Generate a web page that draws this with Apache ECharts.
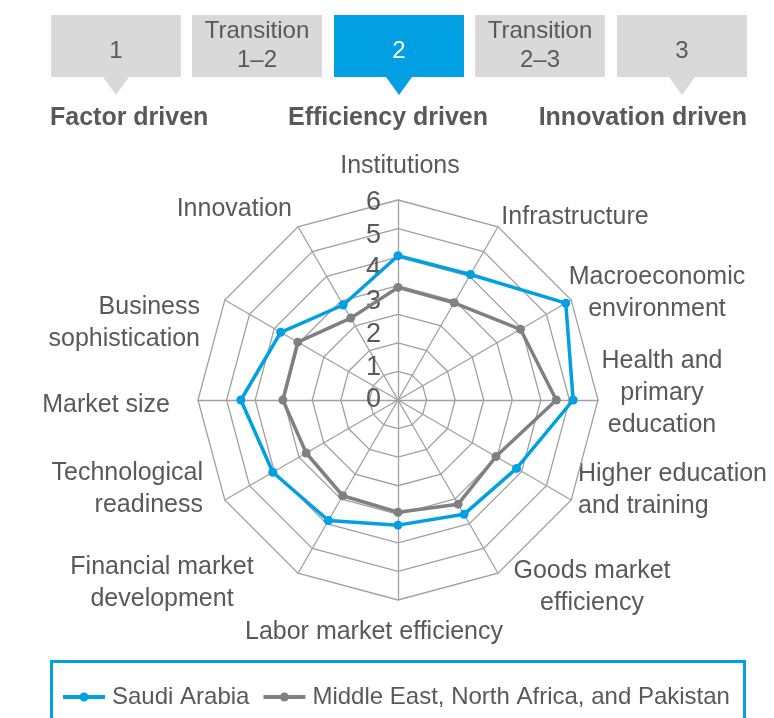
<!DOCTYPE html>
<html lang="en">
  <head>
    <meta charset="UTF-8" />
    <title>Saudi Arabia GCI radar</title>
    <script src="https://cdn.jsdelivr.net/npm/echarts@6/dist/echarts.min.js"></script>
    <style>
      html, body { margin: 0; padding: 0; background: #fff; }
      #chart { width: 774px; height: 718px; }
    </style>
  </head>
  <body>
    <div id="chart"></div>
    <script>
      // pillars, clockwise from the top
      var categories = [
        "Institutions",
        "Infrastructure",
        "Macroeconomic\nenvironment",
        "Health and\nprimary\neducation",
        "Higher education\nand training",
        "Goods market\nefficiency",
        "Labor market efficiency",
        "Financial market\ndevelopment",
        "Technological\nreadiness",
        "Market size",
        "Business\nsophistication",
        "Innovation",
      ];
      var saudiValues = [5.05, 5.07, 6.78, 6.13, 4.79, 4.62, 4.38, 4.87, 5.06, 5.5, 4.74, 3.84];
      var menapValues = [3.94, 3.93, 4.95, 5.54, 3.96, 4.21, 3.93, 3.87, 3.71, 4.03, 4.05, 3.31];
      var tickLabels = ["0", "1", "2", "3", "4", "5", "6"];
      var stages = ["1", "Transition\n1–2", "2", "Transition\n2–3", "3"];
      var stageNames = ["Factor driven", "Efficiency driven", "Innovation driven"];
      var seriesNames = ["Saudi Arabia", "Middle East, North Africa, and Pakistan"];

      var BLUE = "#00a0e3";
      var GREY = "#808080";
      var TEXT = "#595959";
      var FONT = "'Liberation Sans', Arial, sans-serif";

      // echarts lays radar indicators counter-clockwise, so reverse all but the first
      var order = [0];
      for (var i = categories.length - 1; i > 0; i--) order.push(i);
      function reorder(arr) {
        return order.map(function (k) { return arr[k]; });
      }

      // where the pillar names sit around the web
      var labelPos = [
        [400, 166, "center"],
        [575, 217, "center"],
        [657, 293, "center"],
        [662, 393, "center"],
        [578, 490, "left"],
        [592, 587, "center"],
        [374, 632, "center"],
        [162, 583, "center"],
        [203, 489, "right"],
        [170, 405, "right"],
        [200, 323, "right"],
        [292, 209, "right"],
      ];

      var graphics = [];
      // stage boxes on top
      var boxX = [51, 192, 334, 475, 617];
      stages.forEach(function (s, k) {
        var active = k === 2;
        graphics.push({
          type: "rect",
          shape: { x: boxX[k], y: 15, width: 130, height: 62 },
          style: { fill: active ? BLUE : "#d9d9d9" },
        });
        if (k % 2 === 0) {
          var cx = boxX[k] + 65;
          graphics.push({
            type: "polygon",
            shape: { points: [[cx - 13, 77], [cx + 13, 77], [cx, 95]] },
            style: { fill: active ? BLUE : "#d9d9d9" },
          });
        }
        graphics.push({
          type: "text",
          style: {
            text: s,
            x: boxX[k] + 65,
            y: s.indexOf("\n") >= 0 ? 46 : 51,
            textAlign: "center",
            textVerticalAlign: "middle",
            font: "24px " + FONT,
            lineHeight: 29,
            fill: active ? "#fff" : TEXT,
          },
        });
      });
      var stageX = [50, 388, 747];
      var stageAlign = ["left", "center", "right"];
      stageNames.forEach(function (s, k) {
        graphics.push({
          type: "text",
          style: {
            text: s,
            x: stageX[k],
            y: 118,
            textAlign: stageAlign[k],
            textVerticalAlign: "middle",
            font: "bold 25px " + FONT,
            fill: TEXT,
          },
        });
      });
      categories.forEach(function (c, k) {
        graphics.push({
          type: "text",
          style: {
            text: c,
            x: labelPos[k][0],
            y: labelPos[k][1],
            textAlign: labelPos[k][2],
            textVerticalAlign: "middle",
            font: "25px " + FONT,
            lineHeight: 32,
            fill: TEXT,
          },
        });
      });
      // legend frame
      graphics.push({
        type: "rect",
        shape: { x: 51.5, y: 661.5, width: 693, height: 80 },
        style: { fill: "none", stroke: BLUE, lineWidth: 3 },
      });

      var legendIcon =
        "path://M0,3L17,3L17,7L0,7Z M25,3L42,3L42,7L25,7Z M16.5,5A4.5,4.5 0 1 1 25.5,5A4.5,4.5 0 1 1 16.5,5Z";

      var chart = echarts.init(document.getElementById("chart"));
      chart.setOption({
        animation: false,
        textStyle: { fontFamily: FONT },
        graphic: graphics,
        legend: {
          data: seriesNames,
          left: 63,
          top: 685,
          width: 705,
          padding: 0,
          itemWidth: 42,
          itemHeight: 10,
          itemGap: 14,
          icon: legendIcon,
          textStyle: { fontSize: 24, color: TEXT, padding: [0, 0, 0, 2] },
        },
        radar: {
          center: [398, 400],
          radius: 200,
          startAngle: 90,
          splitNumber: 7,
          shape: "polygon",
          indicator: reorder(categories).map(function (c) {
            return { name: c, min: 0, max: 7 };
          }),
          axisName: { show: false },
          axisLine: { lineStyle: { color: "#a0a0a0", width: 1.3 } },
          splitLine: { lineStyle: { color: "#a0a0a0", width: 1.3 } },
          splitArea: { show: false },
        },
        // scale labels 0..6 along the top spoke
        grid: { left: 386, top: 203, width: 10, height: 197 },
        xAxis: { type: "value", show: false, min: 0, max: 1 },
        yAxis: {
          type: "value",
          min: 0,
          max: 6,
          interval: 1,
          axisLine: { show: false },
          axisTick: { show: false },
          splitLine: { show: false },
          axisLabel: {
            margin: 5,
            fontSize: 27,
            color: TEXT,
            formatter: function (v) { return tickLabels[v]; },
          },
        },
        series: [
          {
            type: "radar",
            symbol: "circle",
            symbolSize: 9,
            data: [
              {
                name: seriesNames[0],
                value: reorder(saudiValues),
                lineStyle: { color: BLUE, width: 3.5 },
                itemStyle: { color: BLUE },
              },
              {
                name: seriesNames[1],
                value: reorder(menapValues),
                lineStyle: { color: GREY, width: 3.5 },
                itemStyle: { color: GREY },
              },
            ],
          },
        ],
      });
    </script>
  </body>
</html>
